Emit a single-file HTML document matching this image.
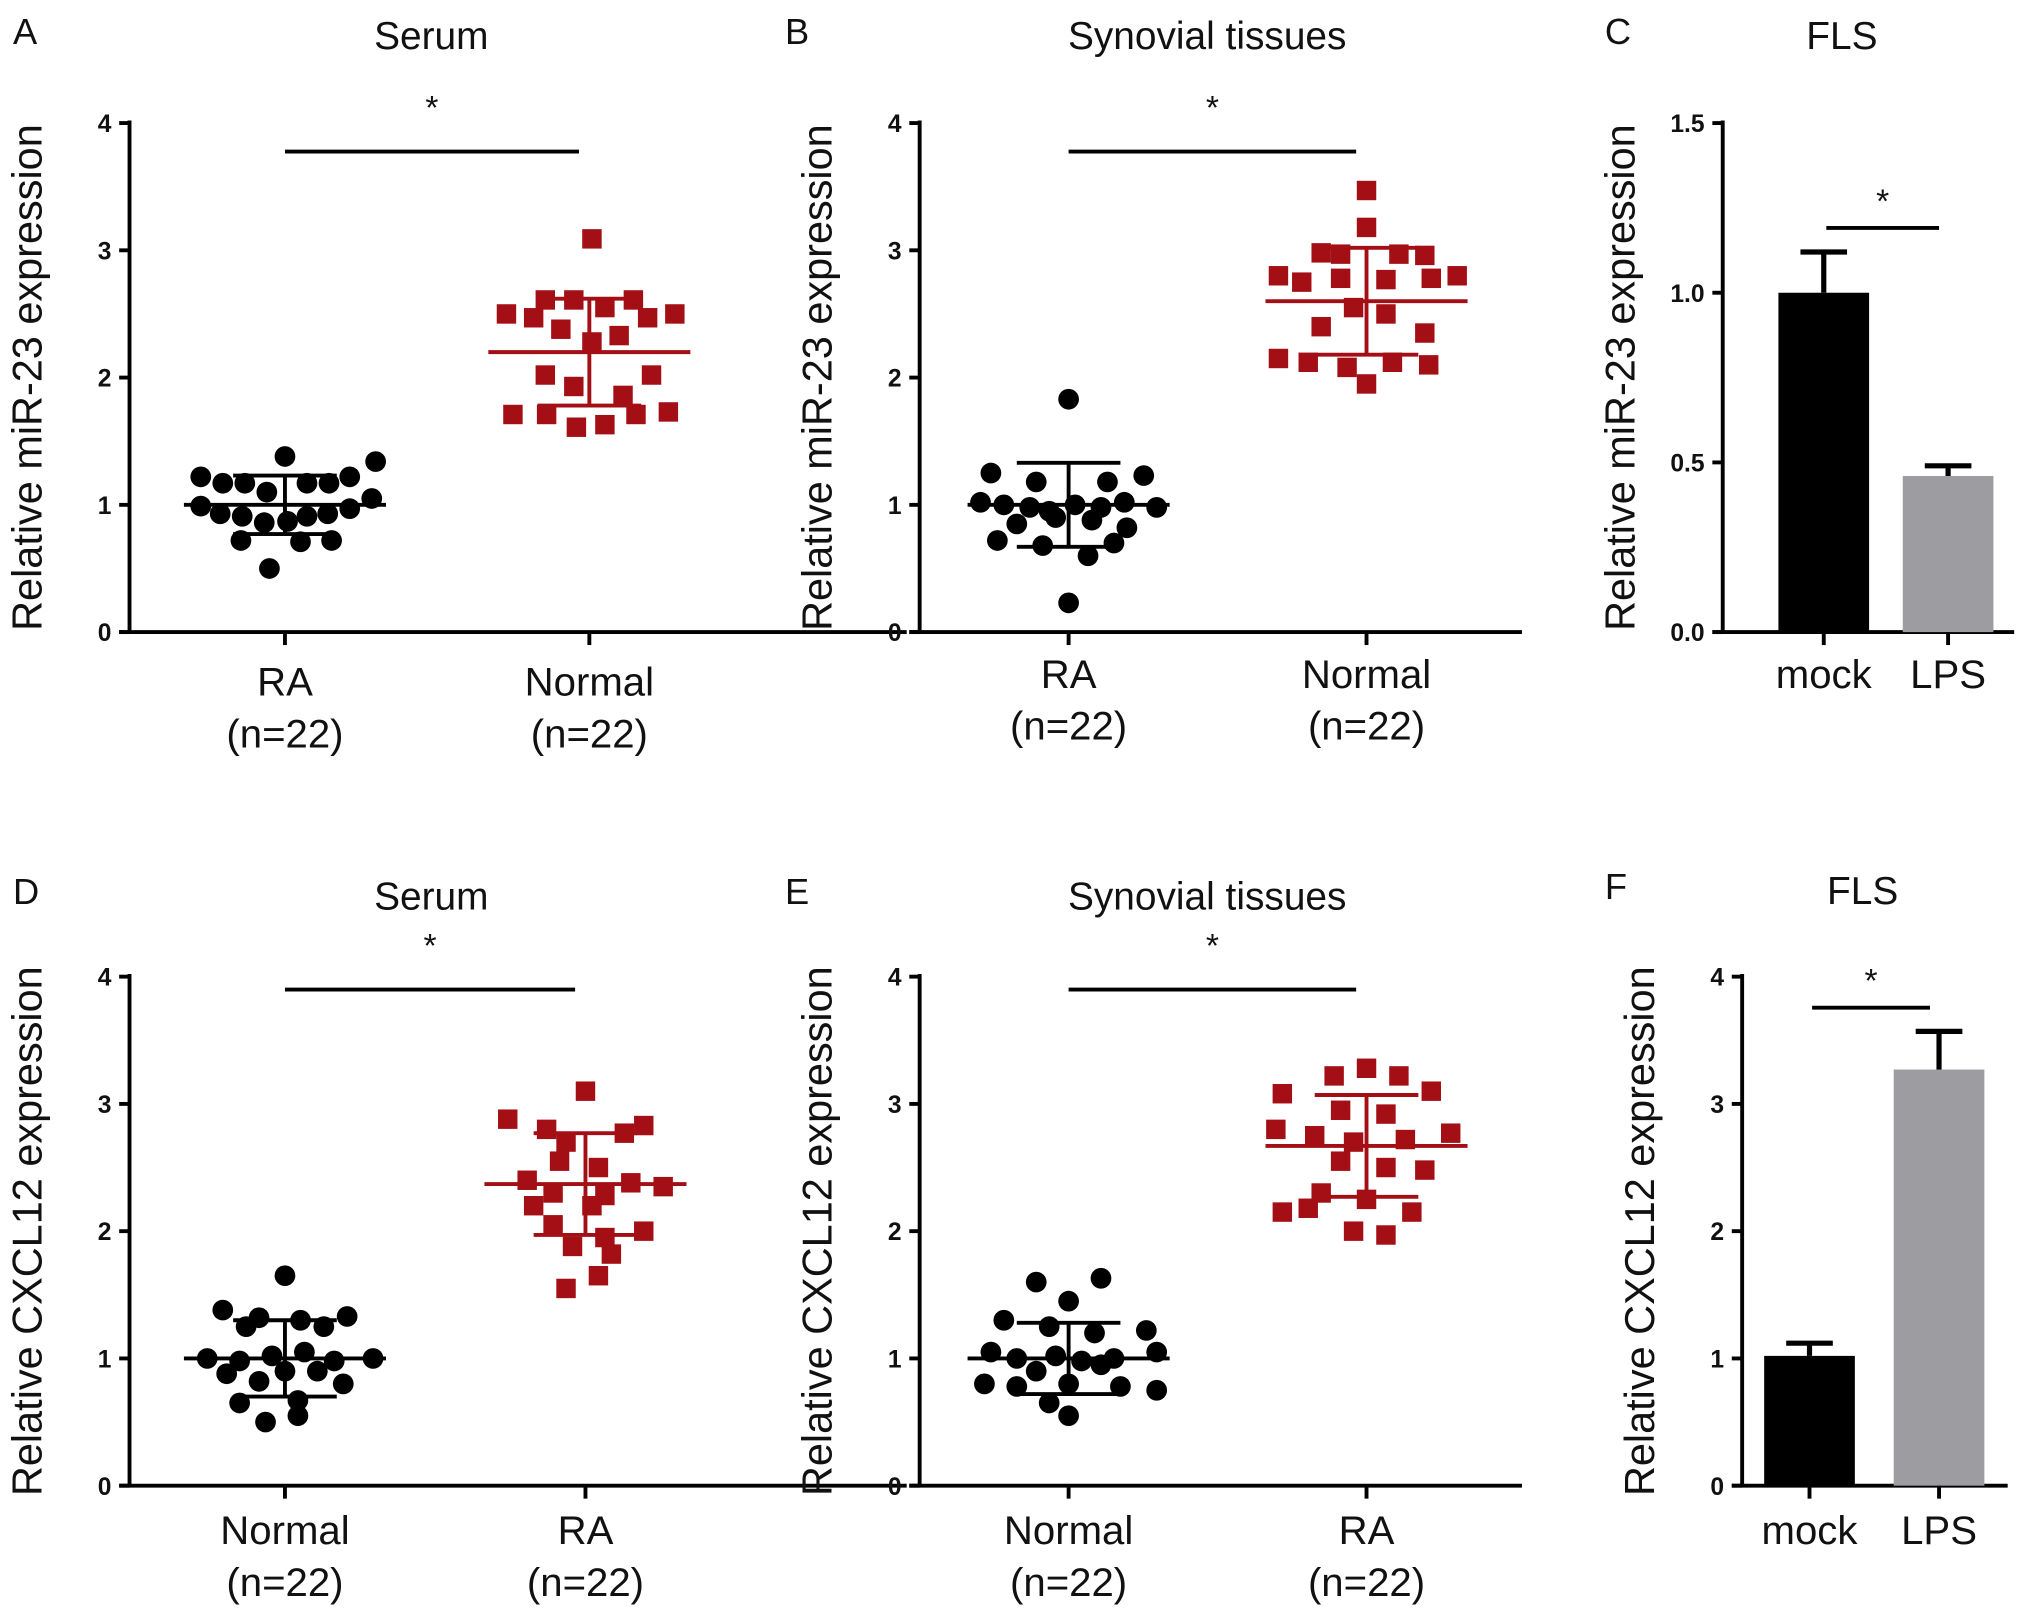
<!DOCTYPE html>
<html><head><meta charset="utf-8"><style>
html,body{margin:0;padding:0;background:#fff;}
svg{display:block;font-family:"Liberation Sans",Arial,sans-serif;}
</style></head><body>
<svg id="fig" width="2031" height="1616" viewBox="0 0 1568 1247.6" xmlns="http://www.w3.org/2000/svg"></svg>
<script>
// ---- data ----
const aRA = [1.22,1.17,1.17,1.10,1.38,1.17,1.17,1.22,1.34,0.99,0.93,0.91,0.86,0.87,0.91,0.93,0.97,1.05,0.72,0.71,0.72,0.50];
const aRAx = [-65,-48,-31,-14,0,17,34,50,70,-65,-50,-33,-16,2,17,33,50,67,-34,12,36,-12];
const aNorm = [2.50,2.47,2.61,2.38,2.61,3.09,2.28,2.55,2.33,2.61,2.47,2.50,2.02,1.93,2.02,1.71,1.71,1.61,1.63,1.86,1.71,1.73];
const aNormx = [-64,-43,-34,-22,-12,2,2,12,23,34,45,66,-34,-12,48,-59,-33,-10,12,26,36,61];
const bRA = [1.83,1.25,1.18,1.18,1.23,1.02,1.0,0.98,0.95,1.0,0.98,1.02,0.98,0.85,0.9,0.88,0.82,0.72,0.68,0.7,0.6,0.23];
const bRAx = [0,-60,-25,30,58,-68,-50,-30,-15,5,25,43,68,-40,-10,18,45,-55,-20,35,15,0];
const bNorm = [3.47,3.18,2.98,2.97,2.97,2.96,2.8,2.75,2.78,2.77,2.78,2.8,2.55,2.5,2.4,2.35,2.15,2.12,2.08,2.12,2.1,1.95];
const bNormx = [0,0,-35,-20,25,45,-68,-50,-20,15,50,70,-10,15,-35,45,-68,-45,-15,20,48,0];
const dNorm = [1.65,1.38,1.32,1.3,1.33,1.25,1.25,1.0,0.98,1.02,1.05,0.98,1.0,0.88,0.9,0.9,0.82,0.8,0.65,0.67,0.5,0.55];
const dNormx = [0,-48,-20,12,48,-30,30,-60,-35,-10,15,38,68,-45,0,25,-20,45,-35,10,-15,10];
const dRA = [3.1,2.88,2.8,2.77,2.83,2.7,2.55,2.5,2.4,2.38,2.35,2.3,2.28,2.2,2.2,2.05,2.0,1.95,1.88,1.82,1.65,1.55];
const dRAx = [0,-60,-30,30,45,-15,-20,10,-45,35,60,-25,15,-40,5,-25,45,15,-10,20,10,-15];
const eNorm = [1.63,1.6,1.45,1.3,1.25,1.2,1.22,1.05,1.0,1.02,0.98,1.0,1.05,0.9,0.95,0.8,0.78,0.8,0.78,0.75,0.65,0.55];
const eNormx = [25,-25,0,-50,-15,20,60,-60,-40,-10,10,35,68,-25,25,-65,-40,0,40,68,-15,0];
const eRA = [3.28,3.22,3.22,3.1,3.08,2.95,2.92,2.8,2.75,2.7,2.72,2.77,2.55,2.5,2.48,2.3,2.25,2.15,2.15,2.0,1.97,2.18];
const eRAx = [0,-25,25,50,-65,-20,15,-70,-40,-10,30,65,-20,15,45,-35,0,-65,35,-10,15,-45];
const cCats = ["mock","LPS"], cVals = [1.0,0.46], cErr = [0.12,0.03];
const fCats = ["mock","LPS"], fVals = [1.02,3.27], fErr = [0.1,0.3];
const stats = {A:[[1.0,0.23],[2.2,0.42]],B:[[1.0,0.33],[2.6,0.42]],D:[[1.0,0.3],[2.37,0.4]],E:[[1.0,0.28],[2.67,0.4]]};
const ticks4 = ["0","1","2","3","4"], ticks15 = ["0.0","0.5","1.0","1.5"];

const svg = document.getElementById('fig');
const NS = "http://www.w3.org/2000/svg";
const RED = "#a30f14";
function el(tag, at, txt){const e=document.createElementNS(NS,tag);for(const k in at)e.setAttribute(k,at[k]);if(txt!=null)e.textContent=txt;svg.appendChild(e);return e;}
function txt(x,y,s,size,opt){opt=opt||{};const e=el('text',{x:x,y:y,'font-size':size,'text-anchor':opt.anchor||'middle','font-weight':opt.bold?'bold':'normal',fill:'#111'},s);if(opt.rot)e.setAttribute('transform','rotate(-90 '+x+' '+y+')');return e;}

function axes(ax, y0, yTop, xEnd, max, labels, ylab){
  const yS = v => y0 - (y0-yTop)*v/max;
  let l=el('line',{x1:ax,y1:yTop-2,x2:ax,y2:y0,stroke:'#000','stroke-width':3});
  
  l=el('line',{x1:ax-8,y1:y0,x2:xEnd,y2:y0,stroke:'#000','stroke-width':3});
  
  labels.forEach((t,i)=>{const v=i*max/(labels.length-1);
    el('line',{x1:ax-8,y1:yS(v),x2:ax,y2:yS(v),stroke:'#000','stroke-width':3});
    const tt=txt(ax-14,yS(v)+7,t,19,{anchor:'end',bold:true});
    });
  const yl=txt(ax-68,(y0+yTop)/2,ylab,32,{rot:true});
  
  return yS;
}
function head(letter,lx,title,tx,ty){
  let t=txt(lx,ty-4,letter,28,{anchor:'start'});
  t=txt(tx,ty,title,30);
}
function sig(x1,x2,y,sy){
  const l=el('line',{x1:x1,y1:y,x2:x2,y2:y,stroke:'#000','stroke-width':3});
  
  const t=txt((x1+x2)/2,sy,'*',26);
}
function scatter(vals,offs,cx,yS,color,square){
  vals.forEach((v,i)=>{
    let e;
    if(square) e=el('rect',{x:cx+offs[i]-7.5,y:yS(v)-7.5,width:15,height:15,fill:color});
    else e=el('circle',{cx:cx+offs[i],cy:yS(v),r:8,fill:color});
    
    
  });
}
function meanSd(cx,yS,m,sd,color){
  const g=[[cx-78,yS(m),cx+78,yS(m)],[cx-40,yS(m+sd),cx+40,yS(m+sd)],[cx-40,yS(m-sd),cx+40,yS(m-sd)],[cx,yS(m+sd),cx,yS(m-sd)]];
  g.forEach(c=>{const l=el('line',{x1:c[0],y1:c[1],x2:c[2],y2:c[3],stroke:color,'stroke-width':3});
    });
}
function xcat(cx,y0,lines,ly){
  el('line',{x1:cx,y1:y0,x2:cx,y2:y0+10,stroke:'#000','stroke-width':3});
  lines.forEach((s,i)=>{const t=txt(cx,ly+i*40,s,31);});
}
function scatterPanel(o){
  head(o.letter,o.lx,o.title,o.tx,o.ty);
  const yS=axes(o.ax,o.y0,o.yTop,o.xEnd,4,ticks4,o.ylab);
  sig(o.c1,o.c2-8,o.sigY,o.sigY-25);
  scatter(o.v1,o.o1,o.c1,yS,o.col1,o.sq1);
  scatter(o.v2,o.o2,o.c2,yS,o.col2,o.sq2);
  meanSd(o.c1,yS,o.s[0][0],o.s[0][1],o.col1);
  meanSd(o.c2,yS,o.s[1][0],o.s[1][1],o.col2);
  xcat(o.c1,o.y0,[o.n1,'(n=22)'],o.ly);
  xcat(o.c2,o.y0,[o.n2,'(n=22)'],o.ly);
}
function barPanel(o){
  head(o.letter,o.lx,o.title,o.tx,o.ty);
  const yS=axes(o.ax,o.y0,o.yTop,o.xEnd,o.max,o.ticks,o.ylab);
  const cols=['#000','#9c9ca1'];
  o.vals.forEach((v,i)=>{const cx=o.cx[i];
    const r=el('rect',{x:cx-35,y:yS(v),width:70,height:o.y0-yS(v),fill:cols[i]});
    
    const e1=el('line',{x1:cx,y1:yS(v),x2:cx,y2:yS(v+o.err[i]),stroke:'#000','stroke-width':4});
    
    el('line',{x1:cx-18,y1:yS(v+o.err[i]),x2:cx+18,y2:yS(v+o.err[i]),stroke:'#000','stroke-width':4});
    xcat(cx,o.y0,[o.cats[i]],o.ly);
  });
  sig(o.cx[0]+2,o.cx[1]-7,o.sigY,o.sigY-12);
}
scatterPanel({letter:'A',lx:10,title:'Serum',tx:333,ty:38,ax:100,y0:488,yTop:95,xEnd:700,ylab:'Relative miR-23 expression',
  c1:220,c2:455,sigY:117,v1:aRA,o1:aRAx,v2:aNorm,o2:aNormx,col1:'#000',col2:RED,sq1:false,sq2:true,s:stats.A,n1:'RA',n2:'Normal',ly:537});
scatterPanel({letter:'B',lx:606,title:'Synovial tissues',tx:932,ty:38,ax:710,y0:488,yTop:95,xEnd:1175,ylab:'Relative miR-23 expression',
  c1:825,c2:1055,sigY:117,v1:bRA,o1:bRAx,v2:bNorm,o2:bNormx,col1:'#000',col2:RED,sq1:false,sq2:true,s:stats.B,n1:'RA',n2:'Normal',ly:531});
barPanel({letter:'C',lx:1239,title:'FLS',tx:1422,ty:38,ax:1330,y0:488,yTop:95,xEnd:1555,max:1.5,ticks:ticks15,ylab:'Relative miR-23 expression',
  cats:cCats,vals:cVals,err:cErr,cx:[1408,1504],sigY:176,ly:531});
scatterPanel({letter:'D',lx:10,title:'Serum',tx:333,ty:702,ax:100,y0:1147,yTop:754,xEnd:700,ylab:'Relative CXCL12 expression',
  c1:220,c2:452,sigY:764,v1:dNorm,o1:dNormx,v2:dRA,o2:dRAx,col1:'#000',col2:RED,sq1:false,sq2:true,s:stats.D,n1:'Normal',n2:'RA',ly:1192});
scatterPanel({letter:'E',lx:606,title:'Synovial tissues',tx:932,ty:702,ax:710,y0:1147,yTop:754,xEnd:1175,ylab:'Relative CXCL12 expression',
  c1:825,c2:1055,sigY:764,v1:eNorm,o1:eNormx,v2:eRA,o2:eRAx,col1:'#000',col2:RED,sq1:false,sq2:true,s:stats.E,n1:'Normal',n2:'RA',ly:1192});
barPanel({letter:'F',lx:1239,title:'FLS',tx:1438,ty:698,ax:1345,y0:1147,yTop:754,xEnd:1550,max:4,ticks:ticks4,ylab:'Relative CXCL12 expression',
  cats:fCats,vals:fVals,err:fErr,cx:[1397,1497],sigY:778,ly:1192});
</script>
</body></html>
